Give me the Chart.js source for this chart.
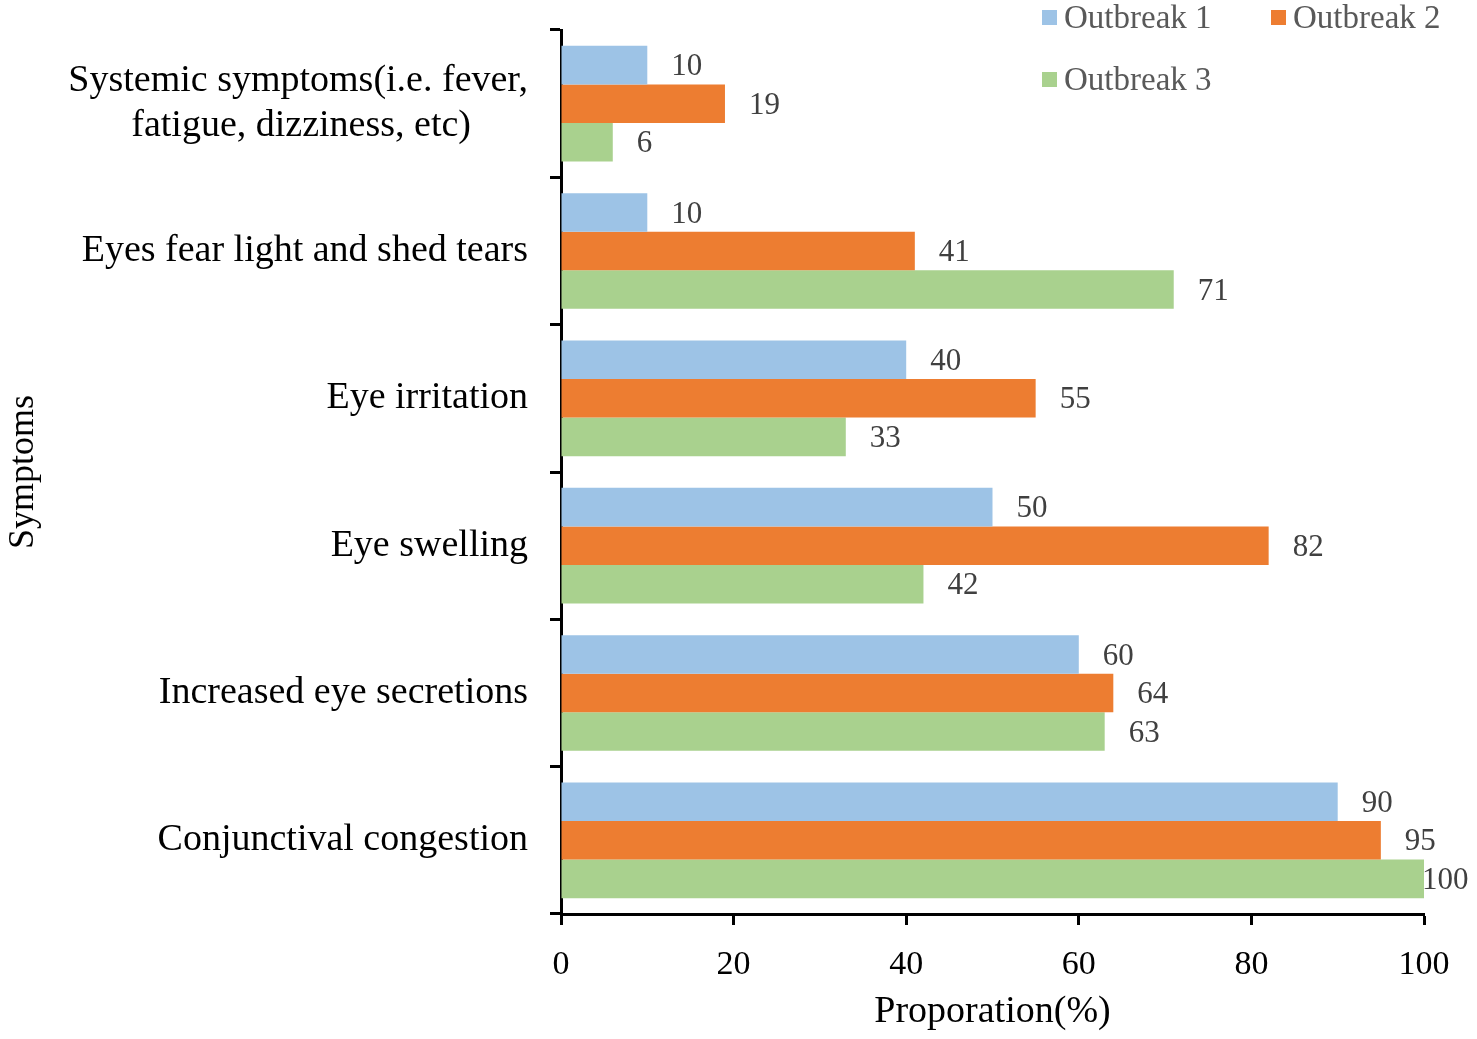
<!DOCTYPE html>
<html>
<head>
<meta charset="utf-8">
<script src="https://cdn.jsdelivr.net/npm/chart.js@4/dist/chart.umd.min.js"></script>
<style>
  html, body { margin: 0; padding: 0; background: #fff; }
  #wrap { width: 1477px; height: 1039px; position: relative; }
</style>
</head>
<body>
<div id="wrap"><canvas id="symptomChart"></canvas></div>
<script>
const symptoms = [
  ["Systemic symptoms(i.e. fever,", "fatigue, dizziness, etc)      "],
  "Eyes fear light and shed tears",
  "Eye irritation",
  "Eye swelling",
  "Increased eye secretions",
  "Conjunctival congestion"
];
const seriesNames = ["Outbreak 1", "Outbreak 2", "Outbreak 3"];
const outbreak1 = [10, 10, 40, 50, 60, 90];
const outbreak2 = [19, 41, 55, 82, 64, 95];
const outbreak3 = [6, 71, 33, 42, 63, 100];
const xTicks = [0, 20, 40, 60, 80, 100];

const colors = ["#9DC3E6", "#ED7D31", "#A9D18E"];
const serif = "'Liberation Serif', 'Times New Roman', serif";

// value labels next to each bar, plus a two-column legend in the top right
const extras = {
  id: "extras",
  afterDatasetsDraw(chart) {
    const c = chart.ctx;
    c.save();
    c.font = "31px " + serif;
    c.fillStyle = "#404040";
    c.textBaseline = "middle";
    c.textAlign = "left";
    chart.data.datasets.forEach((ds, i) => {
      chart.getDatasetMeta(i).data.forEach((bar, j) => {
        const txt = String(ds.data[j]);
        const w = c.measureText(txt).width;
        let x = bar.x + 24;
        if (x + w > chart.width - 6) x = bar.x - 2;
        c.fillText(txt, x, bar.y + 2);
      });
    });

    const spots = [[1042, 18], [1271, 18], [1042, 80]];
    c.font = "33px " + serif;
    chart.data.datasets.forEach((ds, i) => {
      const [lx, ly] = spots[i];
      c.fillStyle = ds.backgroundColor;
      c.fillRect(lx, ly - 8, 15, 15);
      c.fillStyle = "#595959";
      c.fillText(ds.label, lx + 22, ly + 1);
    });
    c.restore();
  }
};

new Chart(document.getElementById("symptomChart"), {
  type: "bar",
  data: {
    labels: symptoms,
    datasets: [
      { label: seriesNames[0], data: outbreak1, backgroundColor: colors[0] },
      { label: seriesNames[1], data: outbreak2, backgroundColor: colors[1] },
      { label: seriesNames[2], data: outbreak3, backgroundColor: colors[2] }
    ]
  },
  options: {
    indexAxis: "y",
    responsive: true,
    maintainAspectRatio: false,
    animation: false,
    layout: { padding: { top: 30, right: 53, left: 0, bottom: 0 } },
    datasets: { bar: { categoryPercentage: 0.785, barPercentage: 1.0, borderWidth: 0 } },
    plugins: { legend: { display: false }, tooltip: { enabled: false } },
    scales: {
      x: {
        min: 0, max: 100,
        afterBuildTicks: s => { s.ticks = xTicks.map(v => ({ value: v })); },
        afterFit: s => { s.height = 125; s.paddingLeft = 0; s.paddingRight = 0; },
        border: { color: "#000", width: 3 },
        grid: { drawOnChartArea: false, drawTicks: true, tickLength: 11, tickColor: "#000", tickWidth: 3 },
        ticks: { color: "#000", font: { family: serif, size: 34 }, padding: 20, maxRotation: 0 },
        title: { display: true, text: "Proporation(%)", color: "#000", font: { family: serif, size: 38 }, padding: { top: 0 } }
      },
      y: {
        afterFit: s => { s.width = 561; s.paddingTop = 0; s.paddingBottom = 0; },
        border: { color: "#000", width: 3 },
        grid: { offset: true, drawOnChartArea: false, drawTicks: true, tickLength: 11, tickColor: "#000", tickWidth: 3 },
        ticks: { color: "#000", font: { family: serif, size: 38, lineHeight: 1.2 }, padding: 22 },
        title: { display: true, text: "Symptoms", color: "#000", font: { family: serif, size: 36 }, padding: { top: 2, bottom: 0 } }
      }
    }
  },
  plugins: [extras]
});
</script>
</body>
</html>
